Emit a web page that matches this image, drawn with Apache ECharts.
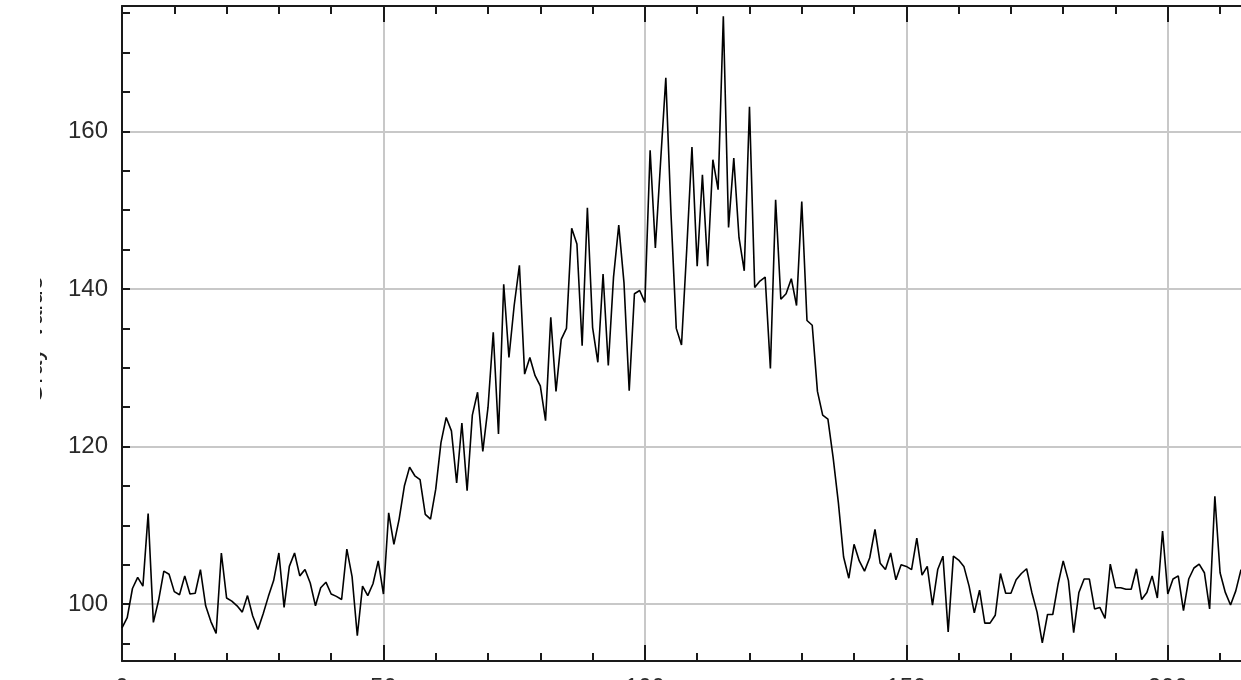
<!DOCTYPE html>
<html><head><meta charset="utf-8">
<script src="https://cdn.jsdelivr.net/npm/echarts@6/dist/echarts.min.js"></script>
<style>html,body{margin:0;padding:0;background:#fff}#c{width:1241px;height:680px}</style>
</head><body><div id="c"></div>
<script>
// Profile values, one per distance step (0..214)
const grayValues = [
  97.0, 98.3, 102.0, 103.4, 102.3, 111.5, 97.7, 100.5, 104.2, 103.8,
  101.6, 101.2, 103.6, 101.3, 101.4, 104.4, 99.8, 97.8, 96.3, 106.5,
  100.8, 100.4, 99.8, 99.0, 101.1, 98.5, 96.8, 98.8, 101.0, 103.0,
  106.5, 99.6, 104.8, 106.5, 103.6, 104.4, 102.7, 99.8, 102.1, 102.8,
  101.3, 101.0, 100.6, 107.0, 103.5, 96.0, 102.3, 101.1, 102.6, 105.5,
  101.3, 111.6, 107.6, 110.8, 115.0, 117.4, 116.3, 115.8, 111.4, 110.8,
  114.6, 120.5, 123.7, 122.0, 115.4, 123.0, 114.4, 124.0, 126.9, 119.4,
  125.0, 134.5, 121.6, 140.6, 131.3, 137.9, 143.0, 129.2, 131.3, 129.0,
  127.7, 123.3, 136.4, 127.0, 133.6, 135.0, 147.7, 145.7, 132.8, 150.3,
  135.1, 130.7, 141.9, 130.3, 141.5, 148.1, 140.8, 127.1, 139.4, 139.8,
  138.3, 157.6, 145.2, 156.1, 166.8, 149.4, 135.0, 132.9, 145.0, 158.0,
  142.9, 154.5, 142.9, 156.4, 152.6, 174.6, 147.8, 156.6, 146.5, 142.3,
  163.1, 140.2, 141.0, 141.5, 129.9, 151.3, 138.7, 139.4, 141.3, 137.9,
  151.1, 136.0, 135.4, 127.0, 124.0, 123.5, 118.6, 112.9, 106.0, 103.3,
  107.6, 105.5, 104.2, 105.9, 109.5, 105.2, 104.4, 106.5, 103.1, 105.0,
  104.8, 104.4, 108.4, 103.7, 104.8, 99.9, 104.4, 106.1, 96.5, 106.1,
  105.6, 104.8, 102.3, 98.9, 101.8, 97.6, 97.6, 98.6, 103.9, 101.4,
  101.4, 103.1, 103.9, 104.5, 101.5, 99.0, 95.1, 98.7, 98.7, 102.5,
  105.5, 103.0, 96.4, 101.5, 103.2, 103.2, 99.4, 99.6, 98.2, 105.1,
  102.1, 102.1, 101.9, 101.9, 104.5, 100.6, 101.5, 103.6, 100.8, 109.3,
  101.3, 103.2, 103.6, 99.2, 103.2, 104.6, 105.1, 104.0, 99.4, 113.7,
  104.0, 101.5, 99.9, 101.7, 104.4
];
const distances = grayValues.map((v, i) => i);
const xLabelValues = [0, 50, 100, 150, 200];
const xMinorTickValues = [0,10,20,30,40,50,60,70,80,90,100,110,120,130,140,150,160,170,180,190,200,210];
const yLabelValues = [100, 120, 140, 160];
const yMinorTickValues = [95,100,105,110,115,120,125,130,135,140,145,150,155,160,165,170,175];
const yAxisName = 'Gray Value';
const xRange = [0, 214];
const yRange = [92.8, 175.9];

const FONT = 'Liberation Sans, Arial, sans-serif';
const AX = '#1a1a1a';
const GRIDC = '#c8c8c8';

function xAxisDef(pos, ticks, len, labels, split, line) {
  return {
    type: 'value', min: xRange[0], max: xRange[1], position: pos, gridIndex: 0,
    axisLine: { show: line, onZero: false, lineStyle: { color: AX, width: 2 } },
    axisTick: { show: true, inside: true, length: len, customValues: ticks, lineStyle: { color: AX, width: 2 } },
    axisLabel: labels ? { show: true, customValues: labels, margin: 15, fontSize: 24, color: '#2a2a2a', fontFamily: FONT } : { show: false },
    splitLine: { show: split, lineStyle: { color: GRIDC, width: 2 } }
  };
}
function yAxisDef(ticks, len, labels, split, line) {
  return {
    type: 'value', min: yRange[0], max: yRange[1], position: 'left', gridIndex: 0,
    axisLine: { show: line, onZero: false, lineStyle: { color: AX, width: 2 } },
    axisTick: { show: true, inside: true, length: len, customValues: ticks, lineStyle: { color: AX, width: 2 } },
    axisLabel: labels ? { show: true, customValues: labels, margin: 14, fontSize: 24, color: '#2a2a2a', fontFamily: FONT } : { show: false },
    splitLine: { show: split, lineStyle: { color: GRIDC, width: 2 } }
  };
}

const chart = echarts.init(document.getElementById('c'), null, { renderer: 'canvas' });
chart.setOption({
  animation: false,
  backgroundColor: '#ffffff',
  grid: { left: 122, right: 0, top: 6, bottom: 19, containLabel: false, outerBoundsMode: 'none' },
  xAxis: [
    xAxisDef('bottom', xLabelValues, 16, xLabelValues, true, true),
    xAxisDef('bottom', xMinorTickValues, 8, null, false, false),
    xAxisDef('top', xLabelValues, 16, null, false, true),
    xAxisDef('top', xMinorTickValues, 8, null, false, false)
  ],
  yAxis: [
    yAxisDef(yLabelValues, 8, yLabelValues, true, true),
    yAxisDef(yMinorTickValues, 8, null, false, false)
  ],
  graphic: [
    { type: 'text', x: 47.5, y: 340, rotation: Math.PI / 2, z: 50,
      style: { text: yAxisName, font: '26px Liberation Sans, Arial, sans-serif', fill: '#222', align: 'center', verticalAlign: 'bottom' } },
    { type: 'rect', left: 0, top: 0, shape: { width: 40, height: 680 }, style: { fill: '#fff' }, z: 100 }
  ],
  series: [{
    type: 'line', xAxisIndex: 0, yAxisIndex: 0,
    data: distances.map((d, i) => [d, grayValues[i]]),
    showSymbol: false, symbol: 'none',
    lineStyle: { color: '#000', width: 1.6 },
    z: 3
  }]
});
</script>
</body></html>
